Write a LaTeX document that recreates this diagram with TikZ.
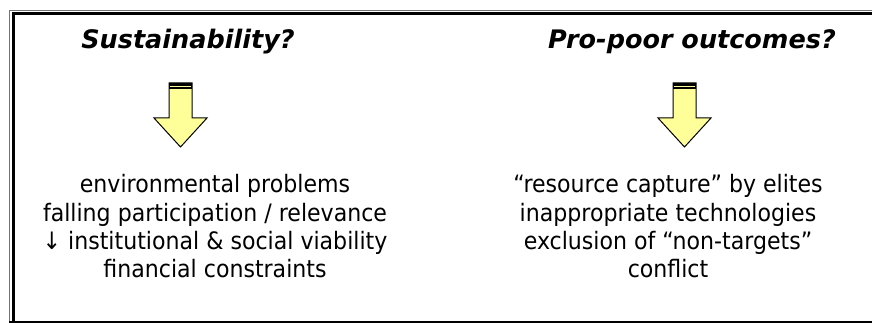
\documentclass[tikz,border=0pt]{standalone}
\usepackage{fontspec}
\setmainfont{DejaVu Sans}[FakeStretch=0.92]
\newfontfamily\headfont{DejaVu Sans}
\definecolor{arrowfill}{HTML}{FFFF99}
\tikzset{
  heading/.style={font=\headfont\bfseries\itshape\fontsize{25.5}{30}\selectfont, inner sep=0pt, anchor=base},
  item/.style={font=\fontsize{24}{28}\selectfont, inner sep=0pt, anchor=base},
  blockarrow/.style={draw=black, line width=1pt, fill=arrowfill, line join=miter},
}

\begin{document}
\begin{tikzpicture}[x=1pt, y=-1pt]
  \useasboundingbox (0,0) rectangle (872,323);

  % frame, open on the right
  \draw[black!55, line width=1pt] (9.5,323) -- (9.5,10.5) -- (872,10.5);
  \draw[line width=3pt] (13.5,323) -- (13.5,14) -- (872,14);
  \draw[line width=1.5pt] (9,322.2) -- (872,322.2);

  \node[heading] (sus) at (188,49) {Sustainability?};
  \node[heading] (pro) at (692,49) {Pro-poor outcomes?};

  % block arrows under the two questions
  \foreach \cx in {180.5, 684.5} {
    \draw[blockarrow] (\cx-11.5,83) -- (\cx+11.5,83) -- (\cx+11.5,118) -- (\cx+26.5,118)
      -- (\cx,147) -- (\cx-26.5,118) -- (\cx-11.5,118) -- cycle;
    \fill (\cx-11.5,83) rectangle (\cx+11.5,89);
    \draw[arrowfill, line width=1.2pt] (\cx-10.5,86.7) -- (\cx+10.5,86.7);
  }

  \foreach \txt [count=\i] in {environmental problems, {falling participation / relevance},
      ↓ institutional \& social viability, financial constraints}
    \node[item] (sus\i) at (215, {193+28*(\i-1)}) {\txt};

  \foreach \txt [count=\i] in {“resource capture” by elites, inappropriate technologies,
      exclusion of “non-targets”, conflict}
    \node[item] (pro\i) at (668, {193+28*(\i-1)}) {\txt};
\end{tikzpicture}
\end{document}
